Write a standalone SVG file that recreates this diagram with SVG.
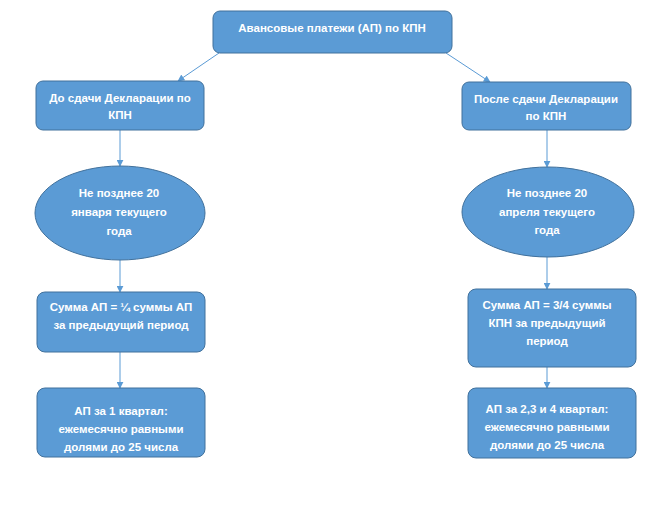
<svg xmlns="http://www.w3.org/2000/svg" width="664" height="524" viewBox="0 0 664 524">
<defs>
<style>
.n{fill:#5B9BD5;stroke:#41719C;stroke-width:1}
.t{fill:#fff;font-family:"Liberation Sans",Arial,sans-serif;font-weight:bold;font-size:11.5px;text-anchor:middle}
.c{stroke:#5B9BD5;stroke-width:1;fill:none;marker-end:url(#a)}
</style>
<marker id="a" viewBox="0 0 10 10" refX="9" refY="5" markerWidth="7" markerHeight="7" orient="auto" markerUnits="userSpaceOnUse">
<path d="M0,0 L10,5 L0,10 z" fill="#5B9BD5"/>
</marker>
</defs>
<rect width="664" height="524" fill="#fff"/>
<g id="connectors">
<line class="c" x1="219" y1="53" x2="178" y2="81"/>
<line class="c" x1="446" y1="53" x2="490" y2="82"/>
<line class="c" x1="120" y1="130" x2="120" y2="166"/>
<line class="c" x1="120" y1="260" x2="120" y2="292"/>
<line class="c" x1="120" y1="352" x2="120" y2="388"/>
<line class="c" x1="547" y1="130" x2="547" y2="167"/>
<line class="c" x1="547" y1="257" x2="547" y2="289"/>
<line class="c" x1="547" y1="367" x2="547" y2="388"/>
</g>
<g id="top">
<rect class="n" x="213" y="11" width="239" height="42" rx="7"/>
<text class="t" x="332" y="32">Авансовые платежи (АП) по КПН</text>
</g>
<g id="left1">
<rect class="n" x="36" y="81" width="168" height="49" rx="7"/>
<text class="t" x="120" y="102">До сдачи Декларации по</text>
<text class="t" x="120" y="119">КПН</text>
</g>
<g id="right1">
<rect class="n" x="462" y="82" width="169" height="48" rx="7"/>
<text class="t" x="546" y="103">После сдачи Декларации</text>
<text class="t" x="546" y="120">по КПН</text>
</g>
<g id="left2">
<ellipse class="n" cx="120" cy="213" rx="85" ry="47"/>
<text class="t" x="119" y="197">Не позднее 20</text>
<text class="t" x="119" y="216">января текущего</text>
<text class="t" x="119" y="235">года</text>
</g>
<g id="right2">
<ellipse class="n" cx="548" cy="212" rx="86" ry="45"/>
<text class="t" x="547" y="197">Не позднее 20</text>
<text class="t" x="547" y="216">апреля текущего</text>
<text class="t" x="547" y="234">года</text>
</g>
<g id="left3">
<rect class="n" x="37" y="292" width="168" height="60" rx="8"/>
<text class="t" x="121" y="311">Сумма АП = ¼ суммы АП</text>
<text class="t" x="121" y="329">за предыдущий период</text>
</g>
<g id="right3">
<rect class="n" x="468" y="289" width="168" height="78" rx="8"/>
<text class="t" x="547" y="309">Сумма АП = 3/4 суммы</text>
<text class="t" x="547" y="327">КПН за предыдущий</text>
<text class="t" x="547" y="345">период</text>
</g>
<g id="left4">
<rect class="n" x="37" y="388" width="168" height="69" rx="8"/>
<text class="t" x="121" y="415">АП за 1 квартал:</text>
<text class="t" x="121" y="433">ежемесячно равными</text>
<text class="t" x="121" y="451">долями до 25 числа</text>
</g>
<g id="right4">
<rect class="n" x="468" y="388" width="168" height="70" rx="8"/>
<text class="t" x="547" y="413">АП за 2,3 и 4 квартал:</text>
<text class="t" x="547" y="431">ежемесячно равными</text>
<text class="t" x="547" y="449">долями до 25 числа</text>
</g>
</svg>
